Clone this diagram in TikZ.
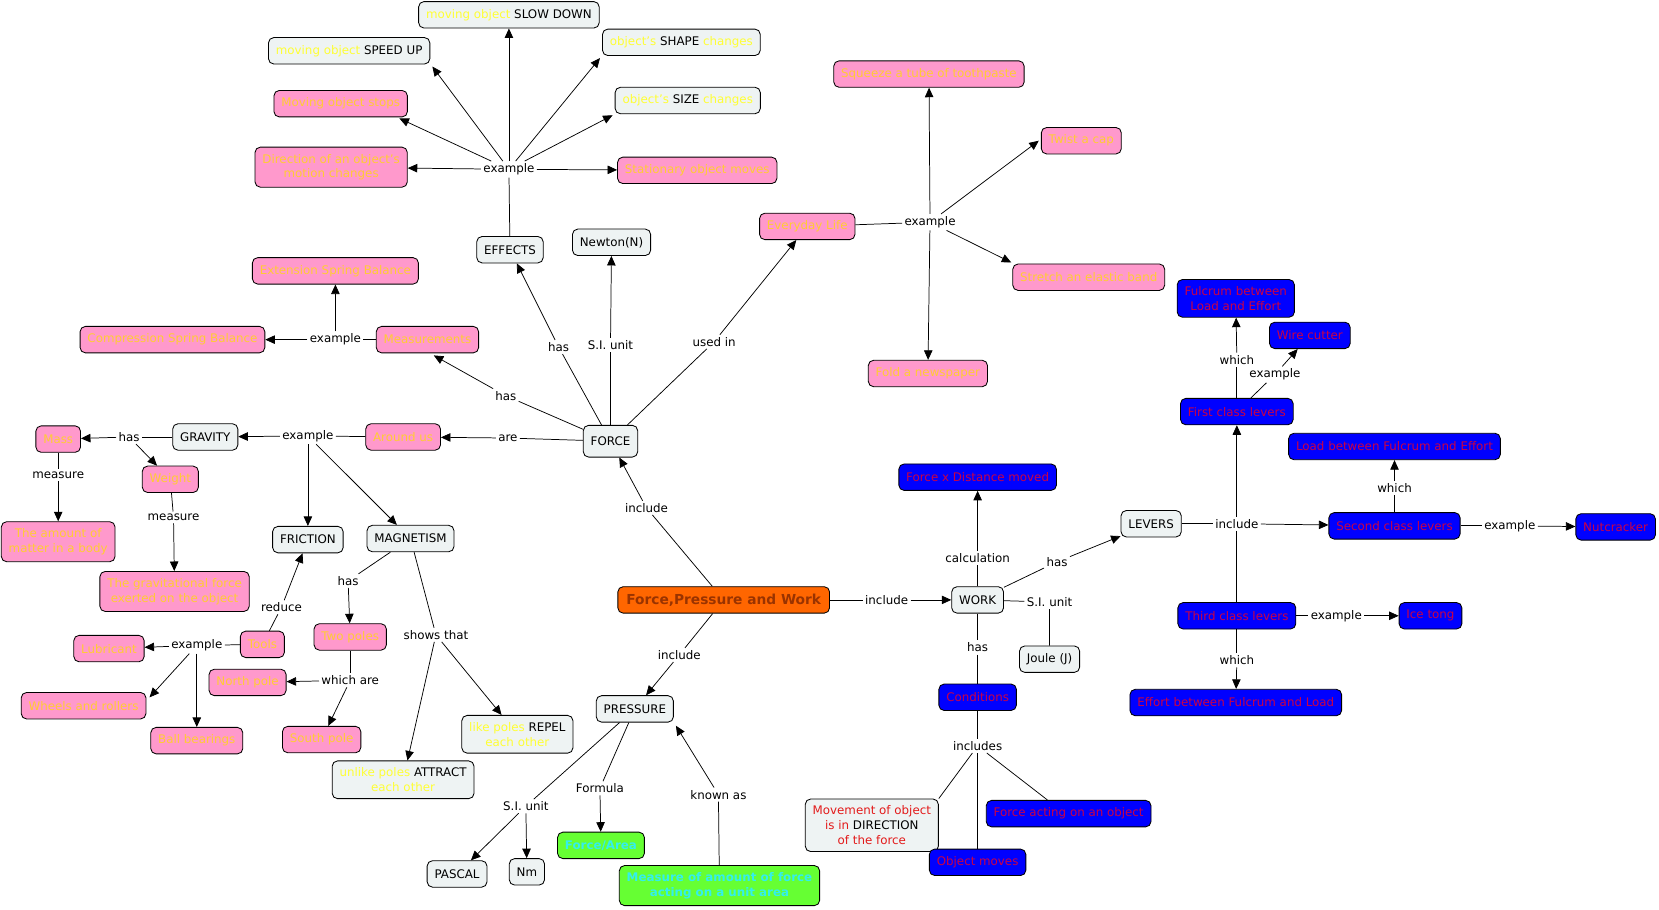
\documentclass[tikz,border=0pt]{standalone}
\usepackage{fontspec}
\setmainfont{DejaVu Sans}
\usetikzlibrary{arrows.meta}
\definecolor{paleBox}{HTML}{EEF3F3}
\definecolor{pinkFill}{HTML}{FF99CC}
\definecolor{pinkText}{HTML}{FFCC33}
\definecolor{paleYellow}{HTML}{FFFF33}
\definecolor{blueFill}{HTML}{0000FF}
\definecolor{blueText}{HTML}{CC0044}
\definecolor{orangeFill}{HTML}{FF6600}
\definecolor{orangeText}{HTML}{993300}
\definecolor{greenFill}{HTML}{66FF33}
\definecolor{greenText}{HTML}{33EEEE}
\definecolor{redText}{HTML}{E31B1B}

\begin{document}
\begin{tikzpicture}[x=1pt,y=-1pt,line width=0.7pt,
	font=\fontsize{11.2}{14}\selectfont,
	cbox/.style={draw,rounded corners=5pt,line width=0.8pt,align=center,inner xsep=7pt,inner ysep=6.5pt,minimum height=25pt},
	pale/.style={cbox,fill=paleBox},
	pinkc/.style={cbox,fill=pinkFill,text=pinkText},
	bluec/.style={cbox,fill=blueFill,text=blueText},
	greenc/.style={cbox,fill=greenFill,text=greenText,font=\fontsize{11.2}{14}\selectfont\bfseries},
	mainc/.style={cbox,fill=orangeFill,text=orangeText,font=\fontsize{13}{15}\selectfont\bfseries,inner xsep=8pt},
	phrase/.style={inner sep=2pt},
	arr/.style={-{Triangle[length=9pt,width=8pt]}}]
	\useasboundingbox (0,0) rectangle (1568,860);

	\node[pale] (slow) at (481,14) {\textcolor{paleYellow}{moving object} SLOW DOWN};
	\node[pale] (speed) at (330,48) {\textcolor{paleYellow}{moving object} SPEED UP};
	\node[pale] (shape) at (644,40) {\textcolor{paleYellow}{object's} SHAPE \textcolor{paleYellow}{changes}};
	\node[pinkc] (stops) at (322,98) {Moving object stops};
	\node[pale] (size) at (650,95) {\textcolor{paleYellow}{object's} SIZE \textcolor{paleYellow}{changes}};
	\node[pinkc] (direction) at (313,158) {Direction of an object's\\motion changes};
	\node[pinkc] (stationary) at (659,161) {Stationary object moves};
	\node[phrase] (exEffects) at (481,160) {example};
	\node[pale] (effects) at (482,236) {EFFECTS};
	\node[pale] (newton) at (578,229) {Newton(N)};
	\node[pale,minimum height=30pt] (force) at (577,417) {FORCE};

	\node[pinkc] (life) at (763,214) {Everyday Life};
	\node[phrase] (exLife) at (879,210) {example};
	\node[pinkc] (squeeze) at (878,70) {Squeeze a tube of toothpaste};
	\node[pinkc] (twist) at (1022,133) {Twist a cap};
	\node[pinkc] (stretch) at (1029,262) {Stretch an elastic band};
	\node[pinkc] (fold) at (877,353) {Fold a newspaper};

	\node[pinkc] (extension) at (317,256) {Extension Spring Balance};
	\node[pinkc] (compression) at (163,321) {Compression Spring Balance};
	\node[phrase] (exMeasure) at (317,321) {example};
	\node[pinkc] (measurements) at (404,321) {Measurements};

	\node[phrase] (hasEffects) at (528,328) {has};
	\node[phrase] (siForce) at (577,326) {S.I. unit};
	\node[phrase] (usedIn) at (675,323) {used in};
	\node[phrase] (hasMeasure) at (478,374) {has};
	\node[phrase] (areLabel) at (480,414) {are};

	\node[pinkc] (around) at (381,413) {Around us};
	\node[phrase] (exAround) at (291,412) {example};
	\node[pale] (gravity) at (194,413) {GRAVITY};
	\node[phrase] (hasGravity) at (122,413) {has};
	\node[pinkc] (mass) at (55,415) {Mass};
	\node[pinkc] (weight) at (161,453) {Weight};
	\node[phrase] (measureMass) at (55,449) {measure};
	\node[pinkc] (amount) at (55,512) {The amount of\\matter in a body};
	\node[phrase] (measureWeight) at (164,489) {measure};
	\node[pinkc] (gforce) at (165,559) {The gravitational force\\exerted on the object};
	\node[pale] (friction) at (291,510) {FRICTION};
	\node[pale] (magnetism) at (388,509) {MAGNETISM};

	\node[pinkc] (tools) at (248,609) {Tools};
	\node[phrase] (reduceLabel) at (266,574) {reduce};
	\node[phrase] (exTools) at (186,610) {example};
	\node[pinkc] (lubricant) at (103,613) {Lubricant};
	\node[pinkc] (wheels) at (79,667) {Wheels and rollers};
	\node[pinkc] (ball) at (186,700) {Ball bearings};

	\node[phrase] (hasPoles) at (329,549) {has};
	\node[pinkc] (twoPoles) at (331,602) {Two poles};
	\node[phrase] (whichAre) at (331,643) {which are};
	\node[pinkc] (north) at (234,645) {North pole};
	\node[pinkc] (south) at (304,699) {South pole};
	\node[phrase] (showsThat) at (412,600) {shows that};
	\node[pale] (like) at (489,694) {\textcolor{paleYellow}{like poles} REPEL\\\textcolor{paleYellow}{each other}};
	\node[pale] (unlike) at (381,737) {\textcolor{paleYellow}{unlike poles} ATTRACT\\\textcolor{paleYellow}{each other}};

	\node[mainc] (fpw) at (684,567) {Force,Pressure and Work};
	\node[phrase] (incForce) at (611,480) {include};
	\node[phrase] (incPressure) at (642,619) {include};
	\node[phrase] (incWork) at (838,567) {include};

	\node[pale] (pressure) at (600,670) {PRESSURE};
	\node[phrase] (siPressure) at (497,762) {S.I. unit};
	\node[pale] (pascal) at (432,826) {PASCAL};
	\node[pale] (nm) at (498,824) {Nm};
	\node[phrase] (formulaLabel) at (567,745) {Formula};
	\node[greenc] (forceArea) at (568,799) {Force/Area};
	\node[phrase] (knownAs) at (679,751) {known as};
	\node[greenc] (measureArea) at (680,837) {Measure of amount of force\\acting on a unit area};

	\node[pale] (work) at (924,567) {WORK};
	\node[phrase] (calcLabel) at (924,527) {calculation};
	\node[bluec] (fxd) at (924,451) {Force x Distance moved};
	\node[phrase] (hasLevers) at (999,531) {has};
	\node[pale] (levers) at (1088,495) {LEVERS};
	\node[phrase] (siWork) at (992,569) {S.I. unit};
	\node[pale] (joule) at (992,623) {Joule (J)};
	\node[phrase] (hasConditions) at (924,612) {has};
	\node[bluec] (conditions) at (924,659) {Conditions};
	\node[phrase] (includesLabel) at (924,705) {includes};
	\node[pale,text=redText] (movement) at (824,780) {Movement of object\\is in \textcolor{black}{DIRECTION}\\of the force};
	\node[bluec] (objMoves) at (924,815) {Object moves};
	\node[bluec] (acting) at (1010,769) {Force acting on an object};

	\node[phrase] (incLevers) at (1169,495) {include};
	\node[bluec] (first) at (1169,389) {First class levers};
	\node[bluec] (second) at (1318,497) {Second class levers};
	\node[bluec] (third) at (1169,582) {Third class levers};
	\node[phrase] (whichFirst) at (1169,340) {which};
	\node[bluec] (fulcrum) at (1168,282) {Fulcrum between\\Load and Effort};
	\node[phrase] (exFirst) at (1205,354) {example};
	\node[bluec] (wire) at (1238,317) {Wire cutter};
	\node[phrase] (whichSecond) at (1318,461) {which};
	\node[bluec] (loadBetween) at (1318,422) {Load between Fulcrum and Effort};
	\node[phrase] (exSecond) at (1427,497) {example};
	\node[bluec] (nutcracker) at (1527,498) {Nutcracker};
	\node[phrase] (exThird) at (1263,582) {example};
	\node[bluec] (iceTong) at (1352,582) {Ice tong};
	\node[phrase] (whichThird) at (1169,624) {which};
	\node[bluec] (effort) at (1168,664) {Effort between Fulcrum and Load};

	\draw (effects) -- (exEffects);
	\foreach \t in {slow,direction,stationary}{
		\draw[arr] (exEffects) -- (\t);
	}
	\draw[arr] (exEffects) -- ([xshift=2pt,yshift=-2pt]speed.south east);
	\draw[arr] (exEffects) -- ([xshift=-8pt,yshift=-1pt]stops.south east);
	\draw[arr] (exEffects) -- ([xshift=-2pt,yshift=-2pt]shape.south west);
	\draw[arr] (exEffects) -- ([xshift=-2pt,yshift=-1pt]size.south west);
	\draw (life) -- (exLife);
	\draw[arr] (exLife) -- (squeeze);
	\draw[arr] (exLife) -- (fold);
	\draw[arr] (exLife) -- ([xshift=-2pt]twist.west);
	\draw[arr] (exLife) -- ([xshift=-1pt,yshift=1pt]stretch.north west);
	\draw (measurements) -- (exMeasure);
	\draw[arr] (exMeasure) -- (extension);
	\draw[arr] (exMeasure) -- (compression);

	\draw (force) -- (hasEffects);
	\draw[arr] (hasEffects) -- (effects);
	\draw (force) -- (siForce);
	\draw[arr] (siForce) -- (newton);
	\draw (force) -- (usedIn);
	\draw[arr] (usedIn) -- (life);
	\draw (force) -- (hasMeasure);
	\draw[arr] (hasMeasure) -- ([xshift=6pt,yshift=-2pt]measurements.south);
	\draw (force) -- (areLabel);
	\draw[arr] (areLabel) -- (around);

	\draw (around) -- (exAround);
	\foreach \t in {gravity,friction,magnetism}{
		\draw[arr] (exAround) -- (\t);
	}
	\draw (gravity) -- (hasGravity);
	\draw[arr] (hasGravity) -- (mass);
	\draw[arr] (hasGravity) -- (weight);
	\draw (mass) -- (measureMass);
	\draw[arr] (measureMass) -- (amount);
	\draw (weight) -- (measureWeight);
	\draw[arr] (measureWeight) -- (gforce);

	\draw (tools) -- (reduceLabel);
	\draw[arr] (reduceLabel) -- (friction);
	\draw (tools) -- (exTools);
	\draw[arr] (exTools) -- (lubricant);
	\draw[arr] (exTools) -- ([xshift=3pt,yshift=-5pt]wheels.north east);
	\draw[arr] (exTools) -- (ball);
	\draw (magnetism) -- (hasPoles);
	\draw[arr] (hasPoles) -- (twoPoles);
	\draw (twoPoles) -- (whichAre);
	\draw[arr] (whichAre) -- (north);
	\draw[arr] (whichAre) -- (south);
	\draw (magnetism) -- (showsThat);
	\draw[arr] (showsThat) -- (like);
	\draw[arr] (showsThat) -- (unlike);

	\draw (fpw) -- (incForce);
	\draw[arr] (incForce) -- (force);
	\draw (fpw) -- (incPressure);
	\draw[arr] (incPressure) -- (pressure);
	\draw (fpw) -- (incWork);
	\draw[arr] (incWork) -- (work);

	\draw (pressure) -- (siPressure);
	\draw[arr] (siPressure) -- (pascal);
	\draw[arr] (siPressure) -- (nm);
	\draw (pressure) -- (formulaLabel);
	\draw[arr] (formulaLabel) -- (forceArea);
	\draw (measureArea) -- (knownAs);
	\draw[arr] (knownAs) -- ([xshift=2pt,yshift=-3pt]pressure.south east);

	\draw (work) -- (calcLabel);
	\draw[arr] (calcLabel) -- (fxd);
	\draw (work) -- (hasLevers);
	\draw[arr] (hasLevers) -- (levers);
	\draw (work) -- (siWork) -- (joule);
	\draw (work) -- (hasConditions) -- (conditions);
	\draw (conditions) -- (includesLabel);
	\draw (includesLabel) -- (movement.north east);
	\draw (includesLabel) -- (objMoves);
	\draw (includesLabel) -- ([xshift=-20pt]acting.north);

	\draw (levers) -- (incLevers);
	\draw[arr] (incLevers) -- (first);
	\draw[arr] (incLevers) -- (second);
	\draw (incLevers) -- (third);
	\draw (first) -- (whichFirst);
	\draw[arr] (whichFirst) -- (fulcrum);
	\draw (first) -- (exFirst);
	\draw[arr] (exFirst) -- (wire);
	\draw (second) -- (whichSecond);
	\draw[arr] (whichSecond) -- (loadBetween);
	\draw (second) -- (exSecond);
	\draw[arr] (exSecond) -- (nutcracker);
	\draw (third) -- (exThird);
	\draw[arr] (exThird) -- (iceTong);
	\draw (third) -- (whichThird);
	\draw[arr] (whichThird) -- (effort);
\end{tikzpicture}
\end{document}
